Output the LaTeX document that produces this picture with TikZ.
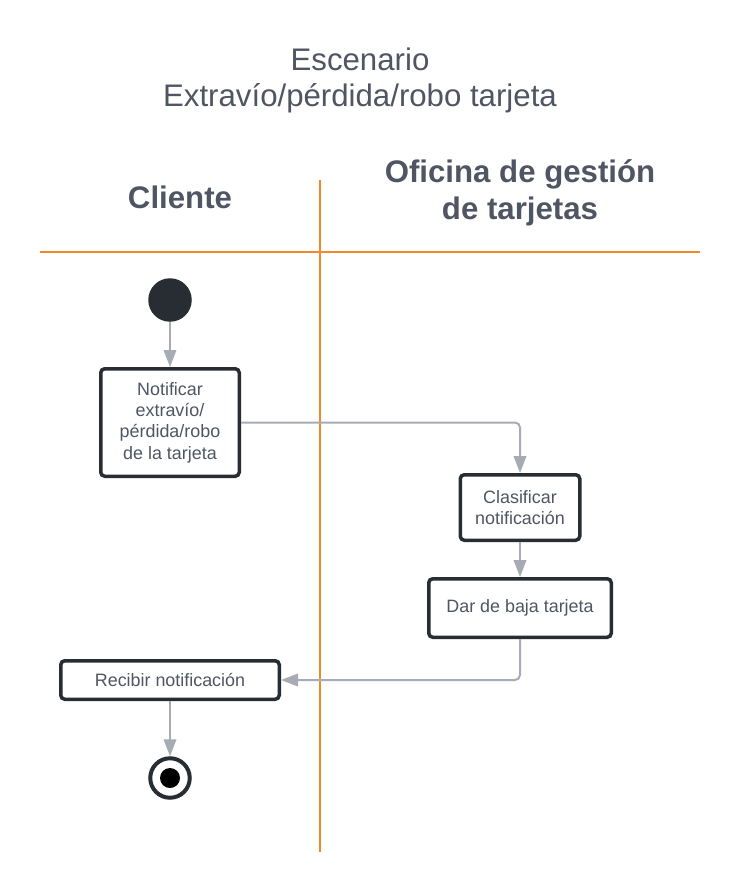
\documentclass[tikz,border=0pt]{standalone}
\usepackage{fontspec}
\setmainfont{Liberation Sans}
\usetikzlibrary{arrows.meta}
\definecolor{lane}{HTML}{EE8A2A}
\definecolor{txt}{HTML}{4F5563}
\definecolor{boxline}{HTML}{282C33}
\definecolor{conn}{HTML}{A7ABB3}
\tikzset{
  titletext/.style={font=\fontsize{31.2}{36}\selectfont, text=txt, anchor=base, inner sep=0},
  headtext/.style={font=\fontsize{31.2}{37}\selectfont\bfseries, text=txt, anchor=base, inner sep=0},
  lanerule/.style={draw=lane, line width=2pt},
  actbox/.style={draw=boxline, line width=3.5pt, rounded corners=4pt, fill=white,
    font=\fontsize{17.9}{21.3}\selectfont, text=txt, align=center, inner sep=0},
  connector/.style={draw=conn, line width=2pt, rounded corners=5pt,
    -{Triangle[length=17pt,width=12.5pt]}},
}
\begin{document}
\begin{tikzpicture}[x=1pt,y=-1pt]
\useasboundingbox (0,0) rectangle (740,893);
\fill[white] (0,0) rectangle (740,893);
% titles
\node[titletext] (t1) at (360,71) {Escenario};
\node[titletext] (t2) at (360,107) {Extravío/pérdida/robo tarjeta};
\node[headtext] (h1) at (180,209) {Cliente};
\node[headtext] (h2) at (520,183) {Oficina de gestión};
\node[headtext] (h3) at (520,220) {de tarjetas};
% lanes
\coordinate (v1) at (320,180);
\coordinate (v2) at (320,852);
\coordinate (hl1) at (40,252);
\coordinate (hl2) at (700,252);
\draw[lanerule] (v1) -- (v2);
\draw[lanerule] (hl1) -- (hl2);
% start
\node[circle, fill=boxline, minimum size=43.5pt, inner sep=0] (start) at (170,300) {};
% boxes
\node[actbox, minimum width=138.5pt, minimum height=107.5pt] (b1) at (170,422.5)
  {Notificar\\extravío/\\pérdida/robo\\de la tarjeta};
\node[actbox, minimum width=119.5pt, minimum height=65.5pt] (b2) at (520,507.5)
  {Clasificar\\notificación};
\node[actbox, minimum width=182.5pt, minimum height=58.5pt] (b3) at (520,608)
  {Dar de baja tarjeta};
\node[actbox, minimum width=218.5pt, minimum height=38.5pt] (b4) at (170,680)
  {Recibir notificación};
% end
\node[circle, draw=boxline, line width=4pt, fill=white, minimum size=39.5pt, inner sep=0] (end) at (170,778) {};
\node[circle, fill=black, minimum size=20pt, inner sep=0] (endin) at (end.center) {};
% connectors
\draw[connector] (start.south) -- (b1.north);
\draw[connector] (b1.east) -| (b2.north);
\draw[connector] (b2.south) -- (b3.north);
\draw[connector] (b3.south) |- (b4.east);
\draw[connector] (b4.south) -- (end.north);
\end{tikzpicture}
\end{document}
